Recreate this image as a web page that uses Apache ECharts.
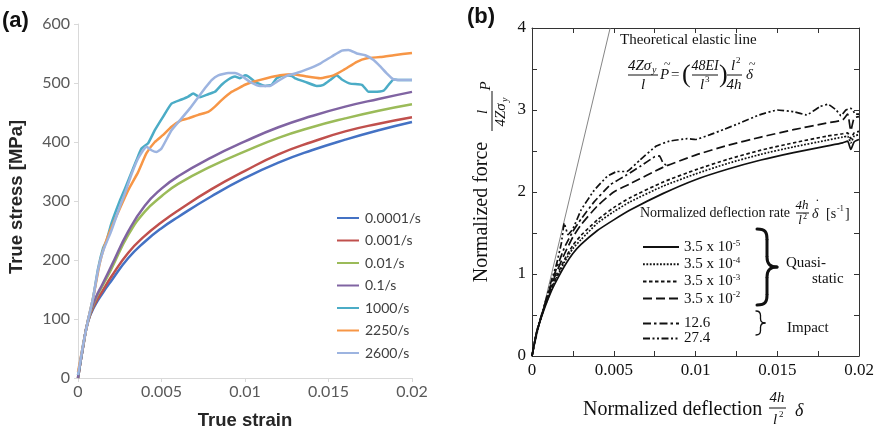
<!DOCTYPE html>
<html><head><meta charset="utf-8">
<script src="https://cdn.jsdelivr.net/npm/echarts@6/dist/echarts.min.js"></script>
<style>html,body{margin:0;padding:0;background:#fff}#c{width:880px;height:431px}</style>
</head><body><div id="c"></div>
<script>
// ---------- Panel (a): true stress-strain ----------
const strainA = [0, 0.0003, 0.0006, 0.001, 0.0015, 0.002, 0.003, 0.004, 0.005, 0.006, 0.008, 0.01, 0.012, 0.014, 0.016, 0.018, 0.02];
const stress0001 = [0, 52, 95, 122, 145, 165, 203, 231, 254, 273, 308, 339, 365, 386, 404, 420, 434];
const stress001  = [0, 52, 96, 125, 149, 172, 212, 241, 264, 284, 320, 351, 379, 400, 418, 431, 442];
const stress01   = [0, 53, 97, 130, 158, 185, 242, 282, 308, 329, 359, 384, 407, 425, 440, 453, 464];
const stress1    = [0, 53, 98, 132, 161, 190, 248, 292, 321, 342, 374, 401, 425, 444, 460, 473, 485];

const strain1000 = [0, 0.0003, 0.0006, 0.0009, 0.0012, 0.0015, 0.0017, 0.002, 0.0025, 0.0028, 0.0031, 0.0035, 0.0038, 0.0042, 0.0046, 0.0051, 0.0056, 0.0062, 0.0066, 0.0069, 0.0073, 0.0078, 0.0082, 0.0086, 0.009, 0.0094, 0.0097, 0.01, 0.0102, 0.0106, 0.0112, 0.0116, 0.0119, 0.0123, 0.0128, 0.013, 0.0136, 0.0143, 0.0147, 0.0151, 0.0155, 0.0158, 0.0163, 0.017, 0.0174, 0.0177, 0.0183, 0.0186, 0.0189, 0.0192, 0.02];
const stress1000 = [5, 55, 98, 135, 185, 220, 232, 262, 300, 320, 341, 369, 389, 398, 420, 443, 465, 472, 477, 482, 476, 481, 485, 497, 506, 511, 508, 513, 511, 502, 495, 497, 508, 513, 512, 508, 502, 495, 497, 505, 513, 506, 499, 497, 485, 485, 487, 497, 506, 505, 505];

const strain2250 = [0, 0.0003, 0.0006, 0.0009, 0.0013, 0.0016, 0.002, 0.0025, 0.003, 0.0036, 0.0041, 0.0046, 0.0051, 0.0056, 0.0062, 0.0066, 0.0072, 0.0078, 0.0082, 0.0086, 0.0092, 0.0096, 0.01, 0.0105, 0.0113, 0.0121, 0.0129, 0.0137, 0.0145, 0.0153, 0.0159, 0.0167, 0.0173, 0.0181, 0.0189, 0.02];
const stress2250 = [10, 55, 98, 135, 194, 225, 255, 287, 318, 349, 381, 400, 412, 426, 437, 440, 446, 451, 460, 471, 485, 491, 497, 502, 508, 513, 515, 511, 508, 513, 522, 536, 542, 544, 547, 551];

const strain2600 = [0, 0.0003, 0.0006, 0.0009, 0.0012, 0.0015, 0.002, 0.0025, 0.0028, 0.0032, 0.0036, 0.0041, 0.0044, 0.0047, 0.005, 0.0056, 0.0062, 0.0067, 0.0072, 0.0076, 0.008, 0.0084, 0.009, 0.0094, 0.0098, 0.0103, 0.0109, 0.0115, 0.0119, 0.0125, 0.013, 0.0137, 0.0145, 0.0152, 0.0158, 0.0162, 0.0167, 0.0172, 0.0177, 0.0181, 0.0185, 0.0189, 0.0192, 0.02];
const stress2600 = [5, 55, 98, 135, 183, 215, 250, 290, 312, 345, 372, 392, 386, 383, 389, 420, 440, 457, 476, 491, 505, 513, 517, 517, 512, 502, 495, 495, 502, 512, 516, 523, 533, 545, 555, 556, 550, 547, 539, 528, 516, 506, 505, 505];

const rateNamesA = ['0.0001/s', '0.001/s', '0.01/s', '0.1/s', '1000/s', '2250/s', '2600/s'];
const colorsA = ['#4472C4', '#C0504D', '#9BBB59', '#8064A2', '#4BACC6', '#F79646', '#9DB4E0'];
const ticksA_y = [0, 100, 200, 300, 400, 500, 600];

// ---------- Panel (b): normalized force-deflection ----------
const deflB = [0, 0.0003, 0.0008, 0.0012, 0.0015, 0.002, 0.0025, 0.003, 0.004, 0.005, 0.006, 0.008, 0.01, 0.012, 0.014, 0.016, 0.018, 0.019, 0.0193, 0.0195, 0.0197, 0.02];
const force35e5 = [0, 0.3, 0.6, 0.8, 0.92, 1.1, 1.25, 1.36, 1.53, 1.66, 1.78, 1.98, 2.15, 2.28, 2.39, 2.48, 2.56, 2.6, 2.62, 2.52, 2.61, 2.64];
const force35e4 = [0, 0.3, 0.61, 0.82, 0.95, 1.15, 1.31, 1.42, 1.62, 1.76, 1.88, 2.07, 2.22, 2.35, 2.46, 2.55, 2.63, 2.67, 2.68, 2.6, 2.68, 2.70];
const force35e3 = [0, 0.3, 0.62, 0.84, 0.97, 1.18, 1.35, 1.47, 1.66, 1.81, 1.93, 2.12, 2.27, 2.40, 2.51, 2.60, 2.68, 2.71, 2.72, 2.65, 2.72, 2.74];
const force35e2 = [0, 0.3, 0.63, 0.87, 1.02, 1.25, 1.45, 1.6, 1.83, 2.0, 2.1, 2.30, 2.45, 2.57, 2.67, 2.76, 2.84, 2.88, 2.95, 2.75, 2.9, 2.92];

const defl126  = [0, 0.0003, 0.0008, 0.0012, 0.0015, 0.002, 0.0025, 0.003, 0.0038, 0.0048, 0.0058, 0.0066, 0.0075, 0.0078, 0.008, 0.0082, 0.0084];
const force126 = [0, 0.3, 0.64, 0.9, 1.07, 1.33, 1.52, 1.67, 1.88, 2.09, 2.21, 2.31, 2.43, 2.44, 2.36, 2.33, 2.35];

const defl274  = [0, 0.0003, 0.0008, 0.0012, 0.0015, 0.0018, 0.00197, 0.0022, 0.0025, 0.003, 0.0038, 0.0046, 0.0052, 0.0058, 0.0066, 0.0076, 0.0084, 0.0095, 0.01, 0.0109, 0.0117, 0.0127, 0.0139, 0.015, 0.016, 0.0168, 0.0176, 0.0181, 0.0186, 0.0189, 0.0192, 0.0195, 0.0198, 0.02];
const force274 = [0, 0.31, 0.65, 0.93, 1.12, 1.38, 1.62, 1.48, 1.55, 1.78, 2.02, 2.19, 2.25, 2.25, 2.39, 2.56, 2.62, 2.65, 2.64, 2.70, 2.76, 2.84, 2.94, 3.0, 2.98, 2.94, 3.04, 3.07, 3.0, 2.93, 3.0, 3.02, 2.95, 2.95];

const elasticX = [0, 0.00478];
const elasticY = [0, 4];

const quasiExp = ['-5', '-4', '-3', '-2'];
const impactRates = ['12.6', '27.4'];

// ---------- build ----------
const zip = (xs, ys) => xs.map((x, i) => [x, ys[i]]);
const SERIF = '"Liberation Serif", "DejaVu Serif", serif';
const SANS = 'Lato, "Liberation Sans", sans-serif';
const ARIAL = '"Liberation Sans", Arial, sans-serif';
const fmtStrain = v => v === 0 ? '0' : String(+v.toFixed(4));

const seriesA = [
  zip(strainA, stress0001), zip(strainA, stress001), zip(strainA, stress01), zip(strainA, stress1),
  zip(strain1000, stress1000), zip(strain2250, stress2250), zip(strain2600, stress2600)
].map((d, i) => ({
  type: 'line', name: rateNamesA[i], xAxisIndex: 0, yAxisIndex: 0, data: d,
  symbol: 'none', smooth: i < 4 ? 0.5 : 0.15, color: colorsA[i],
  lineStyle: { width: 2.5, color: colorsA[i] }, silent: true
}));

const quasiNames = quasiExp.map(e => 'q' + e);
const dashB = ['solid', [1.8, 1.6], [3.5, 2.5], [9, 4]];
const seriesBq = [force35e5, force35e4, force35e3, force35e2].map((f, i) => ({
  type: 'line', name: quasiNames[i], xAxisIndex: 1, yAxisIndex: 1, data: zip(deflB, f),
  symbol: 'none', smooth: 0.2, color: '#111',
  lineStyle: { width: 1.7, color: '#111', type: dashB[i] }, silent: true
}));
const seriesBi = [
  { d: zip(defl126, force126), t: [8, 3, 2.5, 3] },
  { d: zip(defl274, force274), t: [7, 2.5, 2, 2.5, 2, 2.5] }
].map((s, i) => ({
  type: 'line', name: impactRates[i], xAxisIndex: 1, yAxisIndex: 1, data: s.d,
  symbol: 'none', smooth: 0.1, color: '#111',
  lineStyle: { width: 1.7, color: '#111', type: s.t }, silent: true
}));
const elastic = {
  type: 'line', name: 'elastic', xAxisIndex: 1, yAxisIndex: 1, data: zip(elasticX, elasticY),
  symbol: 'none', color: '#777', lineStyle: { width: 0.9, color: '#777' }, silent: true
};

function tx(x, y, text, size, o) {
  o = o || {};
  const font = (o.italic ? 'italic ' : '') + (o.bold ? 'bold ' : '') + size + 'px ' + (o.family || SERIF);
  return { type: 'text', x: x, y: y, rotation: o.rot || 0, silent: true, z: 100,
    style: { text: text, font: font, fill: o.fill || '#111',
      align: o.align || 'left', textAlign: o.align || 'left',
      verticalAlign: 'middle', textVerticalAlign: 'middle' } };
}
function ln(x1, y1, x2, y2, w) {
  return { type: 'line', silent: true, z: 100, shape: { x1, y1, x2, y2 }, style: { stroke: '#111', lineWidth: w || 1 } };
}
function bz(x1, y1, cpx1, cpy1, cpx2, cpy2, x2, y2, w) {
  return { type: 'bezierCurve', silent: true, z: 100, shape: { x1, y1, cpx1, cpy1, cpx2, cpy2, x2, y2 },
    style: { stroke: '#111', fill: null, lineWidth: w, lineCap: 'round' } };
}
// right-facing curly brace from (x, top) to (x, bottom), tip at x + w
function brace(x, top, bot, w, lw) {
  const mid = (top + bot) / 2, xs = x + w * 0.5, r = w * 0.5;
  return [
    bz(x, top, xs - 1, top, xs, top + r * 0.4, xs, top + r, lw),
    ln(xs, top + r, xs, mid - r, lw),
    bz(xs, mid - r, xs, mid - r * 0.3, xs + r * 0.3, mid, x + w, mid, lw),
    bz(x + w, mid, xs + r * 0.3, mid, xs, mid + r * 0.3, xs, mid + r, lw),
    ln(xs, mid + r, xs, bot - r, lw),
    bz(xs, bot - r, xs, bot - r * 0.4, xs - 1, bot, x, bot, lw)
  ];
}

const graphic = [
  tx(2, 21, '(a)', 22, { bold: true, family: ARIAL }),
  tx(467, 17, '(b)', 22, { bold: true, family: ARIAL }),
  // panel (a) axis titles
  tx(17, 197, 'True stress [MPa]', 18.5, { bold: true, family: ARIAL, align: 'center', rot: Math.PI / 2, fill: '#262626' }),
  tx(245, 421, 'True strain', 18.5, { bold: true, family: ARIAL, align: 'center', fill: '#262626' }),
  // panel (b) x title
  tx(583, 410, 'Normalized deflection', 20),
  tx(777, 398, '4h', 15, { italic: true, align: 'center' }),
  ln(769, 408, 786, 408, 1),
  tx(775, 420, 'l', 15, { italic: true, align: 'center' }),
  tx(779, 415, '2', 9, {}),
  tx(795, 411, 'δ', 18, { italic: true }),
  // panel (b) y title (rotated group)
  { type: 'group', x: 492, y: 185, rotation: Math.PI / 2, children: [
    tx(-27, -10, 'Normalized force', 20, { align: 'center' }),
    tx(73, -9, 'l', 15, { italic: true, align: 'center' }),
    ln(54, 0, 94, 0, 1),
    tx(70, 9, '4Zσ', 15, { italic: true, align: 'center' }),
    tx(83, 13, 'y', 10, { italic: true }),
    tx(99, -6, 'P', 15, { italic: true, align: 'center' })
  ]},
  // elastic line annotation
  tx(620, 40, 'Theoretical elastic line', 15),
  tx(628, 66, '4Zσ', 15, { italic: true }),
  tx(652, 70, 'y', 10, { italic: true }),
  ln(628, 75, 658, 75, 1),
  tx(643, 85, 'l', 15, { italic: true, align: 'center' }),
  tx(660, 75, 'P', 15, { italic: true }),
  tx(664, 65, '~', 12, {}),
  tx(671, 75, '=', 15),
  tx(682, 75, '(', 26),
  tx(705, 66, '48EI', 14, { italic: true, align: 'center' }),
  ln(692, 75, 718, 75, 1),
  tx(702, 85, 'l', 15, { italic: true, align: 'center' }),
  tx(705, 80, '3', 9, {}),
  tx(719, 75, ')', 26),
  tx(733, 66, 'l', 15, { italic: true, align: 'center' }),
  tx(736, 61, '2', 9, {}),
  ln(727, 75, 742, 75, 1),
  tx(734, 85, '4h', 15, { italic: true, align: 'center' }),
  tx(746, 75, 'δ', 15, { italic: true }),
  tx(749, 65, '~', 12, {}),
  // legend (b) header
  tx(640, 213, 'Normalized deflection rate', 14),
  tx(802, 206, '4h', 13, { italic: true, align: 'center' }),
  ln(796, 213, 809, 213, 1),
  tx(800, 221, 'l', 13, { italic: true, align: 'center' }),
  tx(803, 217, '2', 8, {}),
  tx(812, 214, 'δ', 14, { italic: true }),
  tx(815, 205, '˙', 14, {}),
  tx(826, 214, '[s', 14),
  tx(837, 209, '-1', 8),
  tx(845, 214, ']', 14),
  // braces
  ...brace(757, 229, 305, 20, 3),
  ...brace(756, 311, 335, 9, 1.3),
  tx(786, 263, 'Quasi-', 15),
  tx(812, 279, 'static', 15),
  tx(787, 328, 'Impact', 15)
];

const axisGray = '#d9d9d9';
const option = {
  animation: false,
  backgroundColor: '#fff',
  grid: [
    { left: 78, right: 468, top: 24, bottom: 53, outerBoundsMode: 'none', containLabel: false },
    { left: 532, right: 21, top: 28, bottom: 75, outerBoundsMode: 'none', containLabel: false }
  ],
  xAxis: [
    { type: 'value', gridIndex: 0, min: 0, max: 0.02, interval: 0.005,
      axisLine: { show: true, lineStyle: { color: axisGray, width: 1 } },
      axisTick: { show: true, length: 4, lineStyle: { color: axisGray } },
      axisLabel: { color: '#595959', fontSize: 16, fontFamily: SANS, margin: 6, formatter: fmtStrain },
      splitLine: { show: false } },
    { type: 'value', gridIndex: 1, min: 0, max: 0.02, interval: 0.005,
      axisLine: { show: true, onZero: false, lineStyle: { color: '#333', width: 1 } },
      axisTick: { show: true, inside: true, length: 5, lineStyle: { color: '#333' } },
      minorTick: { show: true, splitNumber: 2, length: 5, lineStyle: { color: '#333' } },
      axisLabel: { color: '#111', fontSize: 17, fontFamily: SERIF, margin: 6, formatter: fmtStrain },
      splitLine: { show: false } },
    { type: 'value', gridIndex: 1, position: 'top', min: 0, max: 0.02, interval: 0.005,
      axisLine: { show: true, onZero: false, lineStyle: { color: '#333', width: 1 } },
      axisTick: { show: true, inside: true, length: 5, lineStyle: { color: '#333' } },
      minorTick: { show: true, splitNumber: 2, length: 5, lineStyle: { color: '#333' } },
      axisLabel: { show: false }, splitLine: { show: false } }
  ],
  yAxis: [
    { type: 'value', gridIndex: 0, min: ticksA_y[0], max: ticksA_y[ticksA_y.length - 1], interval: 100,
      axisLine: { show: true, lineStyle: { color: axisGray, width: 1 } },
      axisTick: { show: true, length: 4, lineStyle: { color: axisGray } },
      axisLabel: { color: '#595959', fontSize: 16, fontFamily: SANS, margin: 8 },
      splitLine: { show: false } },
    { type: 'value', gridIndex: 1, min: 0, max: 4, interval: 1,
      axisLine: { show: true, onZero: false, lineStyle: { color: '#333', width: 1 } },
      axisTick: { show: true, inside: true, length: 5, lineStyle: { color: '#333' } },
      minorTick: { show: true, splitNumber: 2, length: 5, lineStyle: { color: '#333' } },
      axisLabel: { color: '#111', fontSize: 17, fontFamily: SERIF, margin: 6 },
      splitLine: { show: false } },
    { type: 'value', gridIndex: 1, position: 'right', min: 0, max: 4, interval: 1,
      axisLine: { show: true, onZero: false, lineStyle: { color: '#333', width: 1 } },
      axisTick: { show: true, inside: true, length: 5, lineStyle: { color: '#333' } },
      minorTick: { show: true, splitNumber: 2, length: 5, lineStyle: { color: '#333' } },
      axisLabel: { show: false }, splitLine: { show: false } }
  ],
  legend: [
    { data: rateNamesA, orient: 'vertical', left: 331, top: 206, itemWidth: 22, itemHeight: 14, itemGap: 8.5,
      selectedMode: false, itemStyle: { opacity: 0 },
      textStyle: { color: '#404040', fontSize: 14, fontFamily: SANS, padding: [0, 0, 0, 1] } },
    { data: quasiNames, orient: 'vertical', left: 637, top: 234, itemWidth: 36, itemHeight: 14, itemGap: 1.7,
      selectedMode: false, itemStyle: { opacity: 0 },
      formatter: n => '{t|3.5 x 10}{s|' + n.slice(1) + '}',
      textStyle: { rich: {
        t: { fontFamily: SERIF, fontSize: 15, color: '#111', lineHeight: 16 },
        s: { fontFamily: SERIF, fontSize: 9, color: '#111', lineHeight: 16, verticalAlign: 'top' } } } },
    { data: impactRates, orient: 'vertical', left: 637, top: 311, itemWidth: 36, itemHeight: 14, itemGap: 0,
      selectedMode: false, itemStyle: { opacity: 0 },
      textStyle: { fontFamily: SERIF, fontSize: 15, color: '#111', lineHeight: 14 } }
  ],
  graphic: graphic,
  series: [...seriesA, elastic, ...seriesBq, ...seriesBi]
};
const chart = echarts.init(document.getElementById('c'), null, { renderer: 'canvas' });
chart.setOption(option);
</script></body></html>
